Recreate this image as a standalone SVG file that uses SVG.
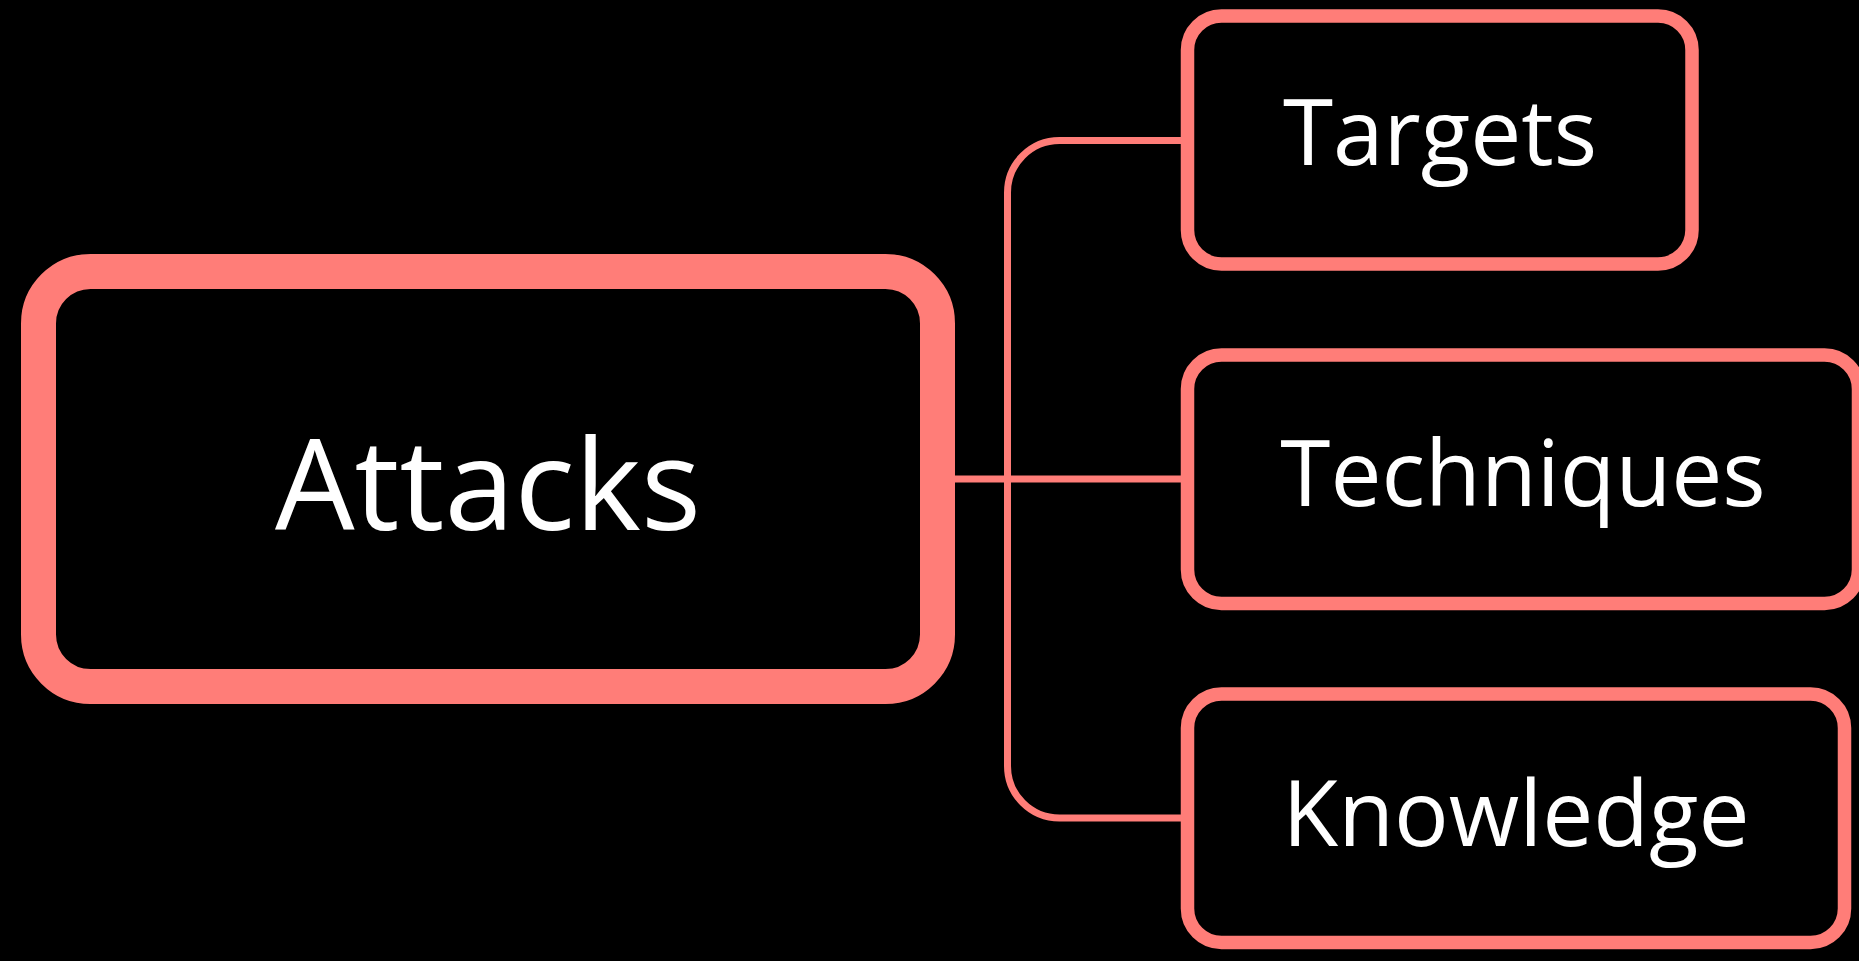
<svg xmlns="http://www.w3.org/2000/svg" width="1859" height="961" viewBox="0 0 1859 961">
<style>
.bg{fill:#000}
.main{fill:#000;stroke:#ff7d78;stroke-width:35}
.child{fill:#000;stroke:#ff7d78;stroke-width:13.5}
.conn{fill:none;stroke:#ff7d78;stroke-width:7}
.lbl{fill:#fff;font-family:"Open Sans","Noto Sans",sans-serif;text-anchor:middle}
</style>
<rect class="bg" x="0" y="0" width="1859" height="961"/>
<g id="connectors">
<path class="conn" d="M955 479 H1181"/>
<path class="conn" d="M1181 140.5 H1059.5 A52 52 0 0 0 1007.5 192.5 V766 A52 52 0 0 0 1059.5 818 H1181"/>
</g>
<g id="attacks">
<rect class="main" x="38.5" y="271.5" width="899" height="415" rx="52"/>
<text class="lbl" x="488" y="530" font-size="126">Attacks</text>
</g>
<g id="targets">
<rect class="child" x="1187.5" y="16" width="504.5" height="248" rx="34"/>
<text class="lbl" x="1440" y="165" font-size="91">Targets</text>
</g>
<g id="techniques">
<rect class="child" x="1187.5" y="355" width="671" height="248.5" rx="34"/>
<text class="lbl" x="1523" y="506" font-size="91">Techniques</text>
</g>
<g id="knowledge">
<rect class="child" x="1187.5" y="694" width="657" height="248.5" rx="34"/>
<text class="lbl" x="1516" y="846" font-size="91">Knowledge</text>
</g>
</svg>
